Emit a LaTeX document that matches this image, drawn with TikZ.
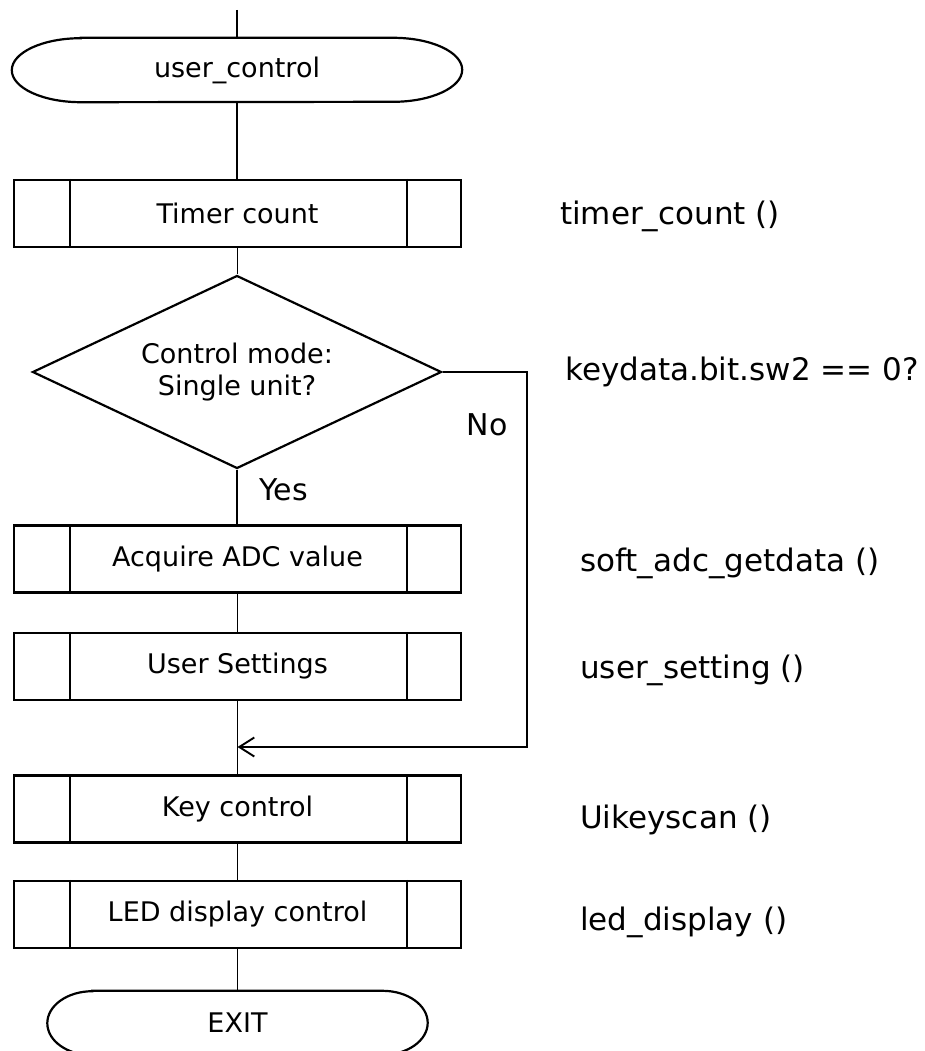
\documentclass[tikz,border=0pt]{standalone}
\usepackage{fontspec}
\setmainfont{DejaVu Sans}
\usetikzlibrary{shapes.geometric,arrows.meta}
\newcommand\innerlines[1]{\draw[shapeline] ([xshift=57pt]#1.north west) -- ([xshift=57pt]#1.south west) ([xshift=-55pt]#1.north east) -- ([xshift=-55pt]#1.south east);}
\newcommand\terminal[2]{\draw[shapeline] ([xshift=#2]#1.north west) -- ([xshift=-#2]#1.north east) arc[start angle=90,end angle=-90,x radius=#2,y radius=32pt] -- ([xshift=#2]#1.south west) arc[start angle=270,end angle=90,x radius=#2,y radius=32pt] -- cycle;}
\begin{document}
\begin{tikzpicture}[x=1pt,y=-1pt,
  shapeline/.style={line width=2.2pt},
  conn/.style={line width=1.9pt},
  boxfont/.style={font=\fontsize{27}{32}\selectfont},
  sidefont/.style={font=\fontsize{31}{37}\selectfont},
  lblfont/.style={font=\fontsize{30}{36}\selectfont},
  proc/.style={draw,shapeline,boxfont,minimum width=447pt,minimum height=67pt,inner sep=0pt},
  term/.style={boxfont,minimum height=64pt,inner sep=0pt},
  decision/.style={draw,shapeline,boxfont,shape=diamond,aspect=2.12,minimum width=409pt,minimum height=193pt,inner sep=0pt,align=center},
  side/.style={sidefont,anchor=west,inner sep=0pt},
  lbl/.style={lblfont,inner sep=0pt}]
\useasboundingbox (0,0) rectangle (924,1051);
\clip (0,0) rectangle (924,1051);
\fill[white] (0,0) rectangle (924,1051);

\node[term,minimum width=450pt] (start) at (237,70) {user\_control};
\terminal{start}{69pt}
\node[proc] (timer) at (237.5,213.5) {Timer count};
\innerlines{timer}
\node[decision] (dec) at (237,372) {Control mode:\\Single unit?};
\node[proc] (adc) at (237.5,559) {Acquire ADC value};
\innerlines{adc}
\node[proc] (user) at (237.5,666.5) {User Settings};
\innerlines{user}
\node[proc] (key) at (237.5,809) {Key control};
\innerlines{key}
\node[proc] (led) at (237.5,914.5) {LED display control};
\innerlines{led}
\node[term,minimum width=380pt] (exit) at (237.5,1023) {EXIT};
\terminal{exit}{45pt}

\coordinate (top) at (237,10);
\coordinate (nocorner) at (527,372);
\coordinate (merge) at (237.5,747);

\draw[conn] (top) -- (start.north);
\draw[conn] (start.south) -- (start.south |- timer.north);
\draw[conn] (timer.south) -- (timer.south |- dec.north);
\draw[conn] (dec.south) -- (dec.south |- adc.north);
\draw[conn] (adc.south) -- (user.north);
\draw[conn] (user.south) -- (key.north);
\draw[conn] (key.south) -- (led.north);
\draw[conn] (led.south) -- (exit.north);
\draw[conn,-{Straight Barb[length=15pt,width=19pt,line width=1.9pt]}] (dec.east) -- (nocorner) |- (merge);

\node[lbl,anchor=west] (yes) at (259,490) {Yes};
\node[lbl] (no) at (487,425) {No};

\node[side] (t1) at (560,216) {timer\_count ()};
\node[side] (t2) at (565,372) {keydata.bit.sw2 == 0?};
\node[side] (t3) at (580,563) {soft\_adc\_getdata ()};
\node[side] (t4) at (580,670) {user\_setting ()};
\node[side] (t5) at (580,820) {Uikeyscan ()};
\node[side] (t6) at (580,922) {led\_display ()};
\end{tikzpicture}
\end{document}
